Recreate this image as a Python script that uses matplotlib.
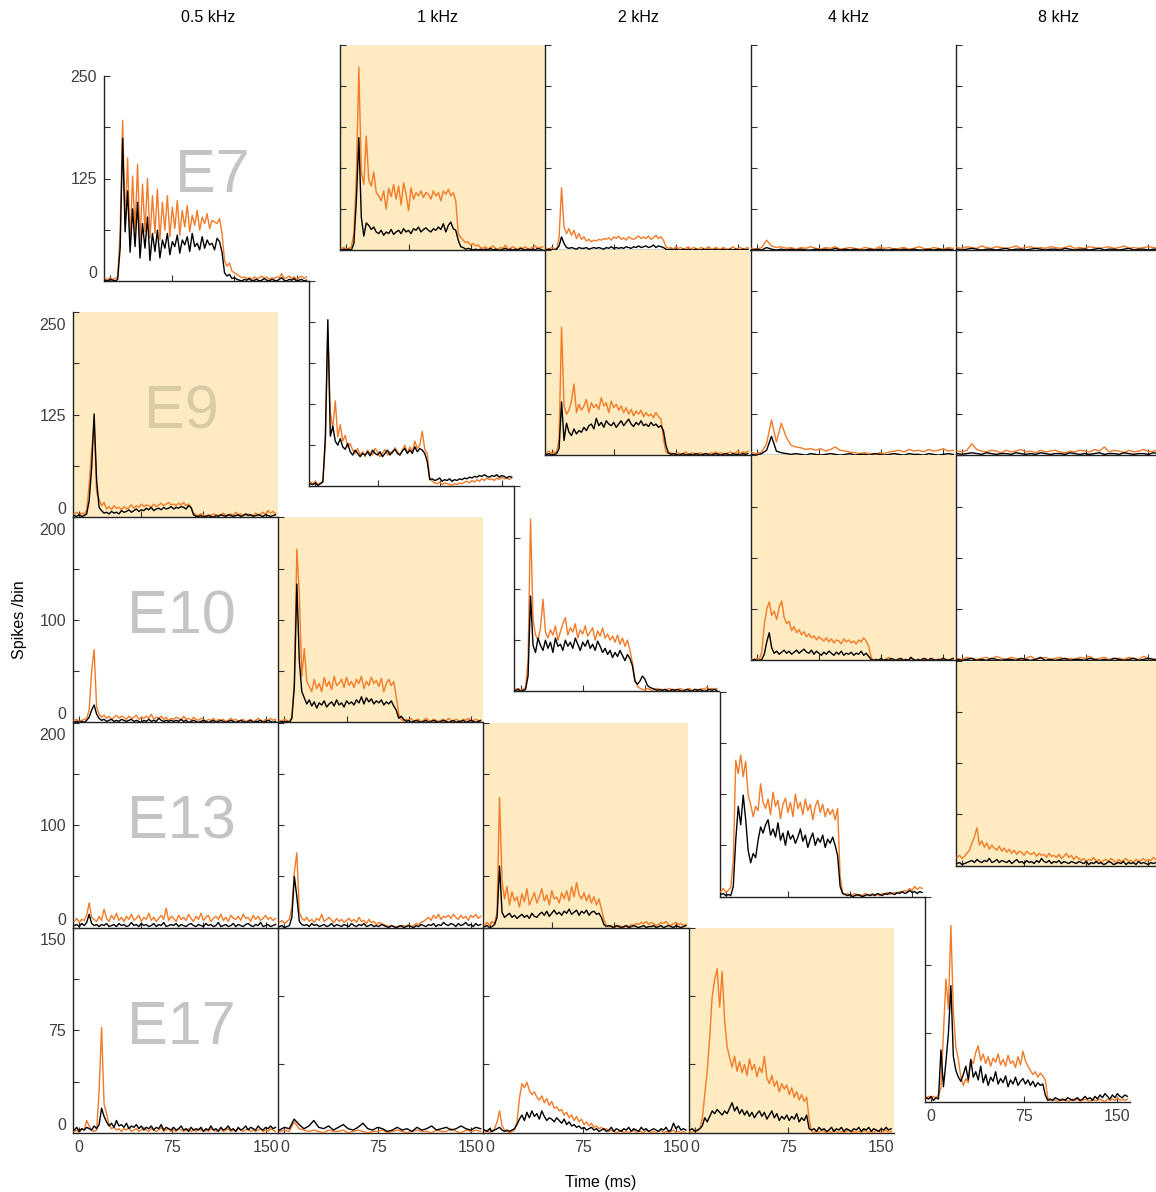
"""Staircase grid of PSTHs: five units (E7..E17) against five tone frequencies."""
import numpy as np
import matplotlib
matplotlib.use('Agg')
import matplotlib.pyplot as plt
import matplotlib.transforms as mtransforms
from matplotlib.ticker import MultipleLocator

plt.rcParams['font.family'] = ['Liberation Sans', 'DejaVu Sans']

freqs = ['0.5 kHz', '1 kHz', '2 kHz', '4 kHz', '8 kHz']
units = ['E7', 'E9', 'E10', 'E13', 'E17']
ymax = [250, 250, 200, 200, 150]
T_FIRST, T_LAST = -4, 158   # ms, first and last bin of every trace

# one list per frequency (0.5, 1, 2, 4, 8 kHz); values are spikes/bin
e7_orange = [
    [3, 2, 4, 2, 3, 5, 60, 196, 70, 150,
     45, 128, 62, 142, 48, 118, 60, 125, 52, 104,
     58, 112, 50, 96, 62, 104, 54, 90, 64, 98,
     56, 86, 66, 92, 60, 80, 68, 86, 62, 78,
     70, 82, 64, 74, 72, 70, 76, 58, 25, 18,
     22, 12, 10, 8, 6, 4, 5, 3, 4, 2,
     5, 3, 4, 6, 3, 5, 2, 4, 3, 5,
     4, 9, 3, 4, 6, 3, 5, 2, 4, 6,
     3, 5],
    [2, 3, 1, 2, 4, 20, 90, 223, 95, 80,
     139, 85, 78, 95, 70, 66, 60, 72, 50, 75,
     65, 80, 62, 78, 55, 82, 68, 48, 76, 62,
     70, 66, 72, 64, 70, 68, 62, 72, 66, 70,
     60, 72, 68, 74, 66, 70, 60, 20, 15, 12,
     9, 10, 6, 8, 5, 6, 3, 2, 4, 1,
     3, 5, 2, 1, 3, 2, 6, 1, 2, 4,
     2, 1, 3, 2, 4, 1, 2, 3, 5, 2,
     3, 4],
    [2, 1, 3, 2, 1, 15, 76, 28, 20, 26,
     18, 24, 14, 20, 13, 16, 11, 13, 10, 12,
     11, 13, 12, 14, 13, 15, 12, 16, 14, 17,
     13, 15, 12, 16, 14, 13, 15, 17, 14, 16,
     14, 17, 13, 15, 18, 14, 16, 12, 4, 2,
     3, 1, 4, 2, 3, 1, 2, 4, 1, 3,
     2, 1, 3, 2, 1, 4, 2, 1, 3, 2,
     1, 3, 2, 1, 2, 4, 1, 2, 3, 1,
     2, 3],
    [2, 1, 3, 12, 5, 3, 4, 2, 3, 1, 3, 2, 4, 2, 1, 3, 2, 4, 1, 2, 3,
     2, 1, 3, 2, 1, 4, 2, 3, 1, 2, 3, 1, 2, 4, 2, 1, 3, 2, 1, 3, 2],
    [3, 2, 4, 3, 2, 5, 3, 2, 4, 3, 2, 3, 5, 2, 3, 4, 2, 3, 2, 4, 3,
     2, 3, 5, 2, 3, 2, 4, 3, 2, 3, 4, 2, 3, 5, 2, 3, 2, 3, 4, 3, 2],
]
e7_black = [
    [1, 0, 2, 1, 0, 2, 40, 174, 60, 110,
     35, 88, 42, 96, 28, 70, 40, 78, 25, 58,
     36, 62, 28, 50, 40, 58, 32, 48, 42, 56,
     34, 50, 44, 54, 36, 58, 42, 46, 38, 54,
     40, 50, 44, 46, 38, 52, 48, 35, 10, 6,
     8, 3, 4, 2, 1, 0, 2, 1, 3, 0,
     1, 2, 0, 1, 3, 1, 0, 2, 1, 0,
     2, 4, 1, 0, 2, 1, 3, 0, 1, 2,
     0, 1],
    [0, 1, 0, 1, 0, 8, 60, 137, 40, 17,
     33, 30, 25, 28, 22, 20, 24, 18, 22, 20,
     25, 19, 22, 24, 20, 26, 22, 24, 20, 26,
     24, 28, 22, 25, 27, 24, 22, 26, 24, 28,
     25, 32, 22, 30, 34, 26, 24, 12, 4, 3,
     1, 2, 1, 0, 1, 0, 1, 0, 1, 0,
     2, 0, 1, 0, 0, 1, 2, 0, 1, 0,
     1, 0, 2, 1, 0, 1, 0, 1, 0, 2,
     1, 0],
    [0, 1, 0, 0, 1, 5, 16, 8, 3, 2,
     3, 2, 1, 3, 2, 2, 3, 1, 2, 3,
     2, 3, 2, 1, 3, 2, 4, 2, 3, 2,
     3, 2, 4, 3, 2, 4, 3, 5, 3, 4,
     5, 3, 4, 6, 3, 5, 4, 3, 1, 0,
     1, 0, 1, 0, 0, 1, 0, 1, 0, 0,
     1, 0, 0, 1, 0, 1, 0, 0, 1, 0,
     0, 1, 0, 0, 1, 0, 1, 0, 0, 1,
     0, 1],
    [0, 1, 0, 3, 1, 0, 1, 0, 1, 0, 1, 0, 0, 1, 0, 1, 0, 2, 0, 1, 0,
     1, 0, 0, 1, 0, 1, 0, 0, 1, 0, 1, 0, 1, 0, 0, 1, 0, 1, 0, 1, 0],
    [1, 0, 1, 2, 1, 0, 1, 1, 0, 1, 2, 0, 1, 1, 0, 1, 2, 1, 0, 1, 1,
     0, 2, 1, 0, 1, 1, 0, 1, 2, 0, 1, 1, 0, 1, 2, 0, 1, 1, 0, 1, 1],
]

e9_orange = [
    [4, 6, 3, 5, 4, 8, 40, 81, 115, 30,
     22, 14, 18, 10, 13, 9, 14, 11, 12, 9,
     13, 10, 12, 15, 11, 14, 12, 16, 13, 15,
     14, 12, 16, 13, 15, 17, 14, 16, 18, 15,
     16, 14, 17, 15, 18, 14, 16, 12, 5, 3,
     2, 4, 3, 1, 3, 2, 4, 3, 2, 3,
     5, 2, 3, 4, 2, 6, 3, 4, 2, 3,
     4, 3, 2, 5, 3, 4, 6, 3, 8, 5,
     7, 4],
    [5, 3, 6, 2, 4, 6, 50, 189, 90, 70,
     104, 60, 75, 55, 62, 48, 52, 44, 40, 46,
     38, 42, 36, 44, 40, 38, 46, 42, 36, 40,
     45, 38, 42, 40, 47, 42, 38, 44, 50, 40,
     48, 42, 55, 46, 50, 67, 45, 40, 10, 6,
     4, 3, 5, 2, 4, 3, 2, 1, 3, 2,
     4, 3, 5, 6, 4, 7, 5, 8, 6, 9,
     7, 10, 8, 9, 7, 10, 8, 11, 9, 10,
     8, 10],
    [3, 5, 2, 4, 3, 20, 156, 60, 50, 55,
     66, 87, 52, 62, 55, 60, 68, 52, 64, 58,
     62, 56, 70, 60, 64, 52, 66, 58, 62, 55,
     60, 52, 58, 50, 56, 48, 54, 50, 55, 47,
     52, 48, 50, 46, 52, 47, 44, 20, 4, 2,
     3, 1, 2, 3, 1, 2, 4, 1, 2, 3,
     1, 2, 3, 1, 2, 1, 3, 2, 4, 2,
     3, 2, 1, 3, 4, 2, 3, 5, 2, 4,
     3, 5],
    [3, 2, 4, 14, 43, 16, 39, 22, 12, 10, 9, 7, 8, 6, 8, 5, 7, 10, 6, 5, 4,
     3, 2, 3, 2, 1, 3, 2, 4, 5, 6, 4, 7, 5, 6, 4, 7, 5, 6, 8, 5, 6],
    [5, 4, 6, 14, 7, 5, 4, 6, 5, 3, 6, 4, 5, 7, 4, 5, 3, 6, 4, 5, 6,
     4, 3, 5, 4, 6, 5, 4, 7, 5, 10, 4, 6, 5, 3, 6, 4, 5, 7, 4, 5, 6],
]
e9_black = [
    [2, 1, 3, 1, 2, 4, 20, 60, 126, 45,
     12, 8, 5, 6, 4, 7, 5, 6, 4, 8,
     6, 7, 9, 6, 8, 10, 7, 9, 8, 11,
     9, 12, 8, 10, 11, 9, 12, 10, 11, 13,
     10, 12, 11, 13, 12, 10, 14, 12, 3, 1,
     1, 2, 0, 1, 2, 1, 0, 2, 1, 3,
     2, 1, 3, 2, 1, 2, 3, 1, 2, 4,
     2, 3, 1, 2, 3, 2, 1, 3, 2, 1,
     2, 3],
    [3, 2, 4, 1, 3, 5, 60, 203, 61, 73,
     55, 50, 58, 48, 45, 52, 42, 38, 44, 40,
     36, 40, 38, 42, 37, 44, 40, 38, 42, 36,
     40, 44, 38, 42, 45, 40, 38, 43, 46, 40,
     44, 40, 48, 42, 46, 44, 40, 30, 8, 9,
     7, 8, 10, 6, 8, 7, 9, 6, 8, 7,
     9, 8, 10, 9, 11, 10, 12, 11, 13, 12,
     14, 12, 11, 13, 12, 14, 11, 13, 12, 10,
     12, 11],
    [1, 2, 0, 1, 2, 8, 65, 18, 39, 28,
     24, 32, 26, 30, 28, 34, 30, 36, 38, 32,
     45, 36, 40, 34, 42, 38, 36, 40, 34, 38,
     42, 36, 40, 44, 38, 35, 40, 37, 42, 36,
     38, 35, 40, 36, 38, 34, 36, 30, 12, 3,
     1, 2, 1, 0, 1, 2, 0, 1, 1, 0,
     2, 1, 0, 1, 2, 1, 0, 1, 2, 1,
     0, 1, 2, 1, 0, 2, 1, 1, 0, 2,
     1, 2],
    [1, 0, 2, 6, 23, 5, 3, 2, 1, 2, 1, 0, 2, 1, 0, 1, 2, 1, 0, 1, 2,
     0, 1, 1, 0, 2, 1, 0, 1, 2, 1, 0, 2, 1, 1, 0, 2, 1, 0, 1, 2, 1],
    [2, 1, 2, 3, 2, 1, 3, 2, 1, 2, 2, 1, 3, 2, 1, 2, 1, 3, 2, 1, 2,
     2, 1, 3, 2, 1, 2, 1, 2, 3, 1, 2, 2, 1, 3, 2, 1, 2, 2, 1, 3, 2],
]

e10_orange = [
    [2, 3, 1, 2, 3, 4, 12, 50, 71, 15,
     8, 5, 7, 4, 6, 3, 5, 7, 4, 6,
     5, 3, 6, 4, 5, 7, 3, 5, 4, 6,
     4, 8, 3, 5, 4, 6, 3, 5, 2, 4,
     3, 5, 4, 2, 6, 3, 4, 2, 5, 3,
     2, 4, 3, 1, 3, 2, 4, 1, 3, 2,
     3, 1, 2, 4, 2, 3, 1, 2, 3, 1,
     2, 3, 1, 2, 4, 2, 1, 3, 2, 4,
     2, 3],
    [2, 1, 3, 2, 1, 5, 40, 169, 125, 45,
     72, 40, 35, 30, 42, 33, 38, 30, 44, 35,
     40, 32, 45, 36, 38, 42, 34, 44, 36, 40,
     34, 42, 38, 45, 33, 40, 36, 44, 38, 41,
     35, 43, 30, 38, 42, 36, 40, 25, 8, 3,
     1, 3, 2, 4, 1, 2, 3, 1, 2, 4,
     2, 1, 3, 2, 1, 2, 3, 1, 4, 2,
     1, 3, 2, 1, 3, 2, 4, 1, 2, 3,
     2, 1],
    [2, 3, 1, 2, 4, 30, 168, 70, 55, 50,
     62, 90, 58, 52, 60, 55, 64, 50, 58, 66,
     72, 55, 62, 58, 66, 52, 60, 56, 64, 54,
     58, 62, 50, 59, 54, 62, 52, 56, 50, 54,
     48, 55, 46, 52, 44, 50, 40, 28, 12, 5,
     3, 2, 1, 3, 2, 1, 2, 3, 1, 2,
     1, 2, 3, 1, 2, 1, 3, 2, 1, 2,
     3, 1, 2, 2, 1, 3, 2, 4, 2, 3,
     2, 3],
    [1, 0, 2, 1, 8, 35, 50, 57, 44, 48,
     40, 52, 58, 42, 36, 38, 29, 33, 27, 30,
     25, 28, 23, 26, 22, 24, 20, 23, 21, 19,
     22, 18, 21, 17, 20, 19, 16, 21, 18, 20,
     17, 19, 16, 20, 18, 22, 19, 14, 3, 0,
     1, 0, 2, 0, 1, 3, 0, 1, 0, 2,
     0, 1, 0, 0, 2, 1, 0, 1, 0, 1,
     2, 0, 1, 0, 1, 0, 2, 1, 0, 1,
     0, 1],
    [2, 1, 3, 2, 1, 2, 3, 1, 4, 2, 1, 3, 2, 1, 2, 4, 1, 2, 3, 1, 2,
     3, 1, 2, 1, 3, 2, 4, 1, 2, 3, 1, 2, 2, 1, 3, 2, 1, 4, 2, 1, 2],
]
e10_black = [
    [0, 1, 0, 1, 0, 2, 5, 12, 17, 8,
     4, 2, 3, 1, 2, 3, 1, 2, 1, 3,
     2, 1, 2, 3, 1, 2, 1, 0, 2, 1,
     3, 1, 2, 1, 4, 2, 1, 2, 1, 2,
     1, 2, 1, 3, 1, 2, 0, 1, 2, 1,
     0, 1, 2, 1, 0, 1, 2, 0, 1, 2,
     1, 0, 1, 2, 1, 0, 1, 2, 1, 0,
     1, 2, 0, 1, 1, 2, 0, 1, 2, 1,
     0, 1],
    [0, 1, 0, 1, 0, 4, 35, 135, 60, 30,
     24, 18, 22, 16, 20, 14, 19, 17, 21, 15,
     18, 20, 16, 22, 17, 19, 15, 21, 18, 20,
     17, 22, 19, 25, 18, 24, 20, 23, 18, 21,
     19, 22, 17, 20, 18, 21, 16, 12, 4, 6,
     3, 1, 2, 0, 1, 2, 1, 0, 1, 2,
     0, 1, 2, 1, 0, 1, 2, 1, 0, 1,
     2, 0, 1, 1, 2, 0, 1, 2, 1, 0,
     1, 2],
    [1, 2, 0, 1, 2, 15, 93, 45, 38, 52,
     45, 40, 50, 42, 48, 38, 52, 44, 46, 40,
     50, 44, 48, 42, 52, 46, 40, 48, 44, 50,
     42, 46, 40, 49, 44, 38, 42, 36, 40, 33,
     38, 34, 40, 35, 30, 36, 32, 25, 10, 7,
     10, 15, 12, 6, 4, 3, 2, 1, 2, 1,
     2, 1, 0, 2, 1, 2, 1, 0, 1, 2,
     1, 0, 2, 1, 2, 1, 0, 1, 2, 1,
     2, 1],
    [0, 1, 0, 0, 1, 6, 18, 27, 12, 7,
     9, 6, 8, 10, 7, 9, 6, 8, 10, 7,
     9, 11, 8, 7, 10, 6, 9, 7, 5, 8,
     6, 9, 7, 5, 8, 6, 9, 5, 7, 6,
     8, 5, 7, 6, 9, 5, 7, 4, 1, 0,
     1, 0, 2, 0, 1, 0, 2, 1, 0, 1,
     2, 0, 1, 0, 3, 1, 0, 1, 0, 2,
     1, 0, 2, 1, 0, 1, 0, 2, 1, 0,
     1, 2],
    [1, 0, 1, 2, 0, 1, 0, 2, 1, 0, 1, 1, 0, 2, 1, 0, 1, 3, 0, 1, 0,
     1, 2, 0, 1, 1, 0, 2, 1, 0, 1, 0, 2, 1, 0, 1, 2, 0, 1, 2, 1, 0],
]

e13_orange = [
    [6, 9, 5, 8, 7, 12, 24, 10, 8, 6,
     11, 7, 18, 9, 6, 12, 8, 14, 7, 10,
     6, 11, 8, 13, 7, 9, 12, 6, 10, 8,
     14, 7, 10, 6, 9, 12, 8, 19, 7, 11,
     9, 6, 12, 8, 10, 7, 13, 9, 6, 11,
     8, 14, 7, 10, 12, 6, 9, 11, 8, 13,
     7, 10, 6, 12, 9, 8, 11, 7, 13, 9,
     10, 6, 12, 8, 11, 7, 9, 12, 8, 10,
     7, 9],
    [5, 7, 4, 6, 8, 20, 54, 73, 15, 9,
     7, 10, 6, 8, 5, 9, 7, 13, 6, 8,
     10, 7, 5, 9, 6, 8, 5, 7, 9, 6,
     8, 5, 10, 6, 7, 4, 8, 5, 6, 3,
     5, 4, 3, 2, 1, 2, 1, 0, 2, 1,
     2, 1, 3, 1, 2, 4, 3, 5, 6, 8,
     10, 7, 12, 9, 13, 8, 11, 10, 12, 9,
     13, 10, 8, 12, 9, 11, 7, 12, 10, 13,
     9, 11],
    [3, 5, 2, 6, 4, 15, 127, 45, 28, 40,
     22, 35, 26, 30, 20, 33, 25, 38, 22, 28,
     34, 24, 30, 38, 26, 32, 22, 36, 28, 30,
     24, 34, 28, 36, 26, 40, 30, 44, 32, 28,
     34, 26, 32, 24, 30, 22, 28, 18, 8, 2,
     1, 2, 0, 1, 2, 1, 0, 2, 1, 3,
     2, 4, 3, 5, 4, 6, 3, 5, 4, 2,
     3, 5, 4, 6, 3, 2, 4, 5, 3, 4,
     2, 3],
    [5, 8, 4, 6, 9, 35, 133, 120, 138, 117,
     132, 99, 90, 78, 88, 84, 110, 92, 86, 95,
     80, 102, 88, 94, 76, 90, 96, 82, 92, 78,
     100, 86, 92, 80, 95, 84, 90, 75, 88, 94,
     82, 90, 78, 86, 80, 85, 75, 86, 20, 4,
     2, 3, 1, 2, 3, 1, 2, 1, 3, 2,
     1, 3, 2, 2, 1, 3, 2, 4, 2, 3,
     4, 3, 5, 4, 6, 5, 8, 6, 10, 7,
     9, 8],
    [8, 10, 7, 9, 12, 15, 22, 28, 37, 20,
     24, 18, 22, 16, 20, 17, 15, 19, 14, 17,
     13, 16, 12, 15, 11, 14, 13, 10, 14, 12,
     11, 13, 9, 12, 10, 11, 8, 12, 9, 10,
     8, 11, 7, 9, 12, 8, 10, 6, 9, 7,
     5, 7, 4, 6, 5, 8, 4, 6, 3, 5,
     6, 4, 7, 5, 3, 6, 4, 5, 7, 4,
     5, 3, 6, 4, 5, 7, 4, 6, 5, 8,
     6, 7],
]
e13_black = [
    [2, 3, 1, 4, 2, 5, 13, 4, 2, 3,
     1, 3, 2, 4, 1, 2, 3, 1, 4, 2,
     3, 1, 2, 5, 2, 3, 1, 4, 2, 3,
     1, 2, 4, 1, 3, 2, 5, 1, 2, 3,
     2, 4, 1, 3, 2, 1, 3, 4, 2, 1,
     3, 2, 1, 4, 2, 3, 1, 2, 5, 1,
     2, 3, 1, 2, 4, 1, 3, 2, 1, 3,
     4, 2, 1, 3, 2, 5, 1, 2, 3, 1,
     2, 3],
    [1, 2, 0, 1, 2, 10, 50, 30, 6, 3,
     2, 3, 1, 4, 2, 3, 1, 2, 3, 1,
     2, 4, 1, 3, 2, 1, 3, 2, 1, 4,
     2, 1, 3, 2, 4, 1, 2, 3, 1, 2,
     1, 3, 2, 1, 0, 2, 1, 0, 1, 2,
     0, 1, 2, 1, 0, 2, 1, 3, 2, 1,
     3, 2, 4, 1, 3, 2, 5, 3, 2, 4,
     3, 1, 4, 2, 3, 5, 2, 3, 1, 4,
     2, 3],
    [1, 2, 0, 1, 3, 10, 60, 15, 10, 12,
     14, 10, 12, 9, 11, 13, 10, 12, 9, 14,
     11, 10, 13, 15, 12, 16, 11, 14, 17, 13,
     15, 12, 16, 14, 18, 13, 15, 17, 12, 16,
     14, 17, 12, 15, 16, 13, 14, 10, 3, 1,
     2, 1, 0, 2, 1, 0, 1, 2, 0, 1,
     2, 1, 0, 1, 2, 0, 1, 1, 2, 0,
     1, 2, 0, 1, 2, 1, 0, 2, 1, 0,
     1, 2],
    [2, 3, 1, 2, 1, 10, 55, 88, 70, 99,
     75, 45, 33, 42, 38, 55, 68, 62, 70, 75,
     60, 66, 58, 72, 55, 62, 50, 64, 56, 60,
     52, 58, 66, 54, 60, 48, 56, 62, 50, 57,
     53, 60, 48, 56, 52, 58, 50, 40, 10, 3,
     2, 1, 2, 0, 1, 2, 1, 0, 1, 2,
     1, 2, 1, 3, 2, 1, 3, 2, 4, 3,
     2, 4, 3, 5, 3, 4, 6, 4, 5, 3,
     5, 4],
    [2, 3, 1, 2, 3, 4, 5, 3, 6, 4,
     3, 5, 4, 7, 3, 4, 6, 3, 5, 4,
     3, 5, 2, 4, 6, 3, 4, 2, 5, 3,
     4, 2, 5, 3, 7, 4, 3, 5, 2, 4,
     3, 5, 2, 4, 3, 2, 4, 3, 2, 4,
     3, 2, 4, 1, 3, 2, 4, 2, 3, 1,
     2, 4, 3, 1, 2, 3, 2, 4, 1, 3,
     2, 3, 1, 4, 2, 3, 2, 1, 3, 2,
     3, 2],
]

e17_orange = [
    [1, 2, 0, 3, 2, 9, 5, 2, 1, 2,
     30, 77, 21, 14, 6, 3, 4, 2, 3, 1,
     3, 2, 4, 1, 2, 3, 1, 2, 4, 2,
     1, 3, 2, 1, 2, 4, 1, 2, 3, 1,
     2, 1, 3, 2, 1, 2, 3, 1, 2, 1,
     3, 2, 1, 2, 1, 3, 2, 1, 2, 3,
     1, 2, 3, 1, 2, 1, 3, 2, 1, 2,
     3, 1, 2, 1, 2, 3, 1, 2, 1, 3,
     2, 1],
    [1, 2, 1, 8, 3, 2, 1, 2, 1, 0, 2, 1, 1, 2, 0, 1, 2, 1, 0, 1, 1,
     2, 0, 1, 2, 1, 0, 1, 2, 1, 1, 0, 2, 1, 1, 3, 1, 0, 2, 1, 2, 1],
    [1, 2, 0, 1, 3, 8, 16, 5, 2, 1,
     0, 1, 2, 8, 25, 36, 33, 37, 31, 28,
     30, 26, 24, 27, 22, 25, 20, 23, 18, 19,
     16, 17, 13, 15, 11, 13, 9, 12, 8, 10,
     6, 8, 5, 7, 4, 5, 3, 4, 2, 3,
     1, 2, 1, 0, 1, 2, 0, 1, 0, 1,
     2, 0, 1, 1, 0, 2, 1, 0, 1, 0,
     1, 2, 0, 1, 0, 1, 2, 0, 1, 0,
     1, 0],
    [1, 0, 2, 1, 3, 10, 28, 45, 70, 100,
     112, 120, 92, 118, 82, 63, 55, 48, 56, 45,
     52, 44, 50, 42, 54, 46, 50, 41, 48, 44,
     56, 40, 36, 42, 34, 38, 30, 36, 32, 35,
     28, 33, 26, 30, 24, 28, 23, 26, 10, 1,
     0, 1, 0, 2, 1, 0, 1, 0, 2, 1,
     0, 1, 0, 1, 2, 0, 1, 0, 1, 0,
     2, 1, 0, 1, 0, 2, 1, 0, 1, 2,
     0, 1],
    [3, 4, 2, 4, 3, 5, 10, 50, 90, 68,
     129, 66, 40, 31, 18, 12, 17, 14, 31, 28,
     36, 41, 30, 35, 28, 33, 26, 32, 29, 35,
     27, 31, 26, 34, 28, 30, 25, 33, 27, 37,
     30, 26, 23, 20, 22, 18, 21, 19, 16, 3,
     1, 2, 1, 0, 2, 1, 2, 0, 1, 2,
     1, 2, 0, 1, 2, 1, 0, 2, 1, 1,
     2, 1, 0, 2, 1, 2, 1, 3, 1, 2,
     1, 2],
]
e17_black = [
    [2, 4, 1, 3, 2, 4, 3, 2, 5, 3,
     6, 18, 12, 8, 5, 7, 4, 9, 5, 6,
     4, 7, 3, 5, 4, 6, 3, 5, 2, 4,
     3, 5, 2, 4, 3, 6, 2, 4, 3, 2,
     4, 2, 3, 5, 2, 3, 1, 4, 2, 3,
     2, 4, 1, 3, 2, 5, 2, 3, 1, 4,
     2, 3, 5, 2, 3, 1, 4, 2, 3, 5,
     2, 4, 3, 2, 5, 3, 2, 4, 3, 5,
     3, 4],
    [2, 4, 3, 10, 6, 3, 5, 9, 4, 3, 5, 2, 4, 6, 3, 2, 4, 7, 3, 2, 4,
     3, 1, 2, 4, 2, 3, 1, 4, 2, 3, 5, 2, 3, 4, 2, 3, 5, 3, 2, 4, 3],
    [2, 1, 3, 1, 2, 3, 4, 2, 1, 2,
     1, 2, 3, 6, 10, 13, 9, 15, 11, 16,
     12, 14, 10, 16, 12, 9, 11, 10, 8, 11,
     9, 7, 10, 6, 8, 5, 6, 4, 5, 3,
     4, 2, 3, 4, 2, 3, 1, 2, 3, 1,
     2, 4, 1, 3, 2, 1, 3, 2, 4, 1,
     3, 2, 1, 4, 2, 3, 1, 2, 3, 2,
     1, 3, 2, 4, 1, 2, 7, 3, 5, 2,
     3, 2],
    [2, 3, 1, 2, 3, 5, 11, 8, 12, 16,
     14, 17, 15, 13, 16, 14, 18, 22, 16, 19,
     14, 17, 13, 16, 12, 15, 11, 14, 16, 12,
     15, 10, 13, 16, 11, 14, 9, 12, 10, 13,
     9, 12, 10, 14, 8, 11, 9, 13, 3, 2,
     3, 1, 4, 2, 3, 1, 2, 4, 1, 3,
     2, 4, 1, 3, 2, 1, 3, 2, 4, 1,
     3, 2, 4, 1, 3, 2, 1, 3, 2, 4,
     2, 3],
    [3, 2, 4, 1, 3, 2, 38, 11, 29, 50,
     85, 33, 23, 18, 15, 20, 26, 16, 31, 18,
     22, 16, 26, 14, 20, 12, 18, 15, 22, 13,
     17, 14, 19, 11, 16, 13, 18, 12, 15, 17,
     13, 16, 12, 15, 11, 14, 12, 13, 5, 1,
     2, 1, 3, 2, 1, 2, 1, 3, 2, 1,
     2, 3, 1, 2, 4, 2, 3, 1, 4, 2,
     5, 3, 6, 4, 2, 5, 3, 6, 4, 3,
     5, 4],
]

orange_rows = [e7_orange, e9_orange, e10_orange, e13_orange, e17_orange]
black_rows = [e7_black, e9_black, e10_black, e13_black, e17_black]

# colours
ORANGE = '#F37A26'
YELLOW = '#FEEBC1'
LABEL_ON_WHITE = '#C4C4C4'
LABEL_ON_YELLOW = '#D9CBA4'
TICK_GREY = '#404040'

# layout in pixels of the 1156x1192 output
FIG_W, FIG_H = 1156, 1192
PANEL = 205
PITCH = 205.2
STEP = 31          # offset of the staircase
X0, Y0 = 73, 312   # left edge of column 0, bottom edge of row 0 (from top)
title_x = [208, 437, 638, 849, 1058]

fig = plt.figure(figsize=(FIG_W / 100, FIG_H / 100), dpi=100)
nudge_down = mtransforms.ScaledTranslation(0, -4 / 72, fig.dpi_scale_trans)

for i in range(5):
    for j in range(5):
        off = 0 if j < i else (1 if j == i else 2)
        left = X0 + PITCH * j + STEP * off
        bottom = Y0 + PITCH * i - STEP * off
        ax = fig.add_axes([left / FIG_W, 1 - bottom / FIG_H,
                           PANEL / FIG_W, PANEL / FIG_H])
        shaded = abs(i - j) == 1
        ax.set_facecolor(YELLOW if shaded else 'none')

        o = np.array(orange_rows[i][j], dtype=float)
        b = np.array(black_rows[i][j], dtype=float)
        ax.plot(np.linspace(T_FIRST, T_LAST, len(o)), o, color=ORANGE, lw=1.0, zorder=3)
        ax.plot(np.linspace(T_FIRST, T_LAST, len(b)), b, color='black', lw=1.0, zorder=4)

        ax.set_xlim(-5, 160)
        ax.set_ylim(0, ymax[i])
        for s in ('top', 'right'):
            ax.spines[s].set_visible(False)
        for s in ('left', 'bottom'):
            ax.spines[s].set_color('#222222')
            ax.spines[s].set_linewidth(1.0)
        ax.tick_params(direction='in', length=4, width=0.8, colors='#333333',
                       labelcolor=TICK_GREY, labelsize=11.5, pad=5)

        if j == 0:
            m = ymax[i]
            ax.set_yticks([0, m / 4, m / 2, 3 * m / 4, m])
            labels = ax.set_yticklabels(['0', '', str(int(m / 2)), '', str(m)])
            labels[0].set_va('bottom')
            if i > 0:
                labels[-1].set_va('top')
                labels[-1].set_transform(labels[-1].get_transform() + nudge_down)
            ax.text(0.53, 0.51, units[i], transform=ax.transAxes, fontsize=44,
                    ha='center', va='center', zorder=1,
                    color=LABEL_ON_YELLOW if shaded else LABEL_ON_WHITE)
        else:
            ax.yaxis.set_major_locator(MultipleLocator(50))
            ax.set_yticklabels([])

        if i == 4:
            ax.set_xticks([0, 75, 150])
        else:
            ax.set_xticks([0, 50, 100, 150])
            ax.set_xticklabels([])

for x, f in zip(title_x, freqs):
    fig.text(x / FIG_W, 1 - 18 / FIG_H, f, ha='center', va='center', fontsize=11.5)

fig.text(20 / FIG_W, 1 - 620 / FIG_H, 'Spikes /bin', rotation=90,
         ha='center', va='center', fontsize=11.5)
fig.text(601 / FIG_W, 1 - 1182 / FIG_H, 'Time (ms)', ha='center', va='center',
         fontsize=11.5)

fig.savefig('out.png', dpi=100)
